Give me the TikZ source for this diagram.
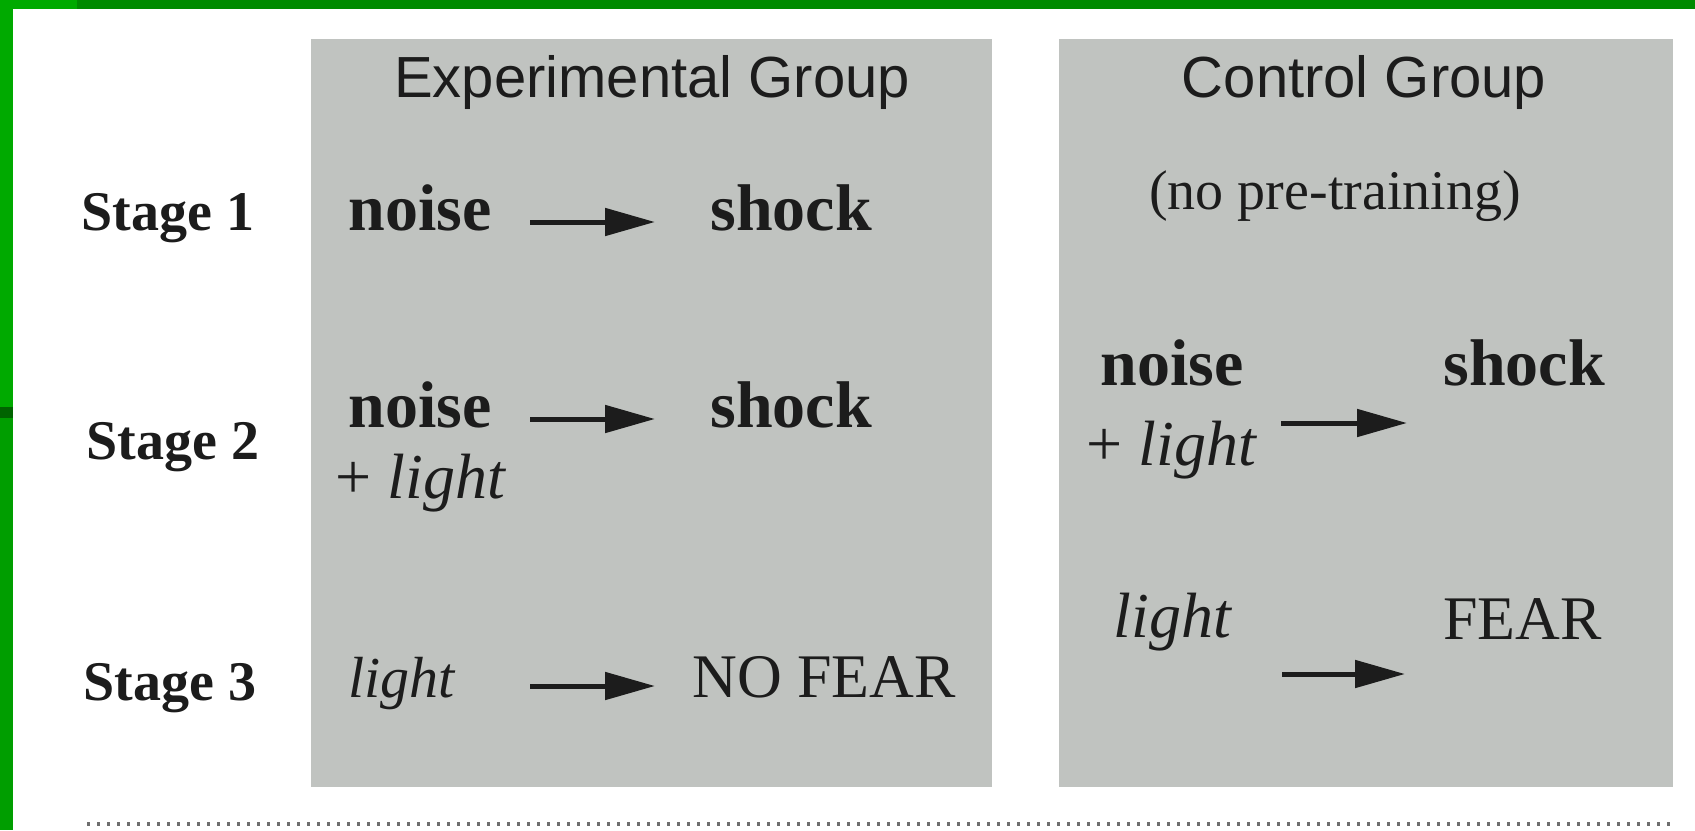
\documentclass[tikz,border=0pt]{standalone}
\usepackage{fontspec}
\setmainfont{Liberation Serif}
\newfontfamily\grpfont{Liberation Sans}
\usetikzlibrary{arrows.meta}
\definecolor{ink}{RGB}{28,28,28}
\definecolor{panelgray}{RGB}{192,195,192}
\definecolor{brightgreen}{RGB}{0,170,0}
\definecolor{darkgreen}{RGB}{0,138,0}
\definecolor{bandgreen}{RGB}{0,100,0}
\definecolor{lowgreen}{RGB}{0,158,0}
\definecolor{dotgray}{RGB}{110,110,110}
\begin{document}
\begin{tikzpicture}[x=0.5pt,y=-0.5pt,
  txt/.style={inner sep=0pt, text=ink},
  stagelbl/.style={txt, font=\fontsize{28}{30}\selectfont\bfseries, anchor=base west},
  boldlbl/.style={txt, font=\fontsize{33}{36}\selectfont\bfseries, anchor=base west},
  itallbl/.style={txt, font=\fontsize{32}{36}\selectfont\itshape, anchor=base west},
  reglbl/.style={txt, font=\fontsize{31}{36}\selectfont, anchor=base west},
  grplbl/.style={txt, font=\fontsize{29}{32}\selectfont\grpfont, anchor=base},
  notelbl/.style={txt, font=\fontsize{28}{30}\selectfont, anchor=base},
  panel/.style={fill=panelgray, draw=none},
  conn/.style={-{Triangle[length=25pt,width=13.5pt]}, line width=2.5pt, draw=ink}]
\useasboundingbox (0,0) rectangle (1695,830);
\fill[white] (0,0) rectangle (1695,830);
% green frame
\fill[brightgreen] (0,0) rectangle (77,9);
\fill[darkgreen] (77,0) rectangle (1695,9);
\fill[brightgreen] (0,0) rectangle (13,407);
\fill[bandgreen] (0,407) rectangle (13,418);
\fill[lowgreen] (0,418) rectangle (13,830);
% panels
\path[panel] (311,39) rectangle (992,787);
\path[panel] (1059,39) rectangle (1673,787);
% bottom dotted rule
\draw[dotgray, line width=2pt, dash pattern=on 1.5pt off 3.5pt] (87,824) -- (1673,824);
% titles
\node[grplbl] (expt) at (652,97) {Experimental Group};
\node[grplbl] (ctrlt) at (1364,97) {Control Group};
\node[notelbl] (nopre) at (1335,209) {(no pre-training)};
% stage labels
\node[stagelbl] (st1) at (81,230) {Stage 1};
\node[stagelbl] (st2) at (86,459) {Stage 2};
\node[stagelbl] (st3) at (83,700) {Stage 3};
% experimental group
\node[boldlbl] (en1) at (348,230) {noise};
\node[boldlbl] (es1) at (710,230) {shock};
\coordinate (ea1s) at (530,222);
\coordinate (ea1e) at (655,222);
\draw[conn] (ea1s) -- (ea1e);
\node[boldlbl] (en2) at (348,427) {noise};
\node[itallbl] (el2) at (335,498) {\upshape+ \itshape light};
\node[boldlbl] (es2) at (710,427) {shock};
\coordinate (ea2s) at (530,419);
\coordinate (ea2e) at (655,419);
\draw[conn] (ea2s) -- (ea2e);
\node[itallbl, font=\fontsize{29}{34}\selectfont\itshape] (el3) at (348,697) {light};
\node[reglbl] (enf) at (692,697) {NO FEAR};
\coordinate (ea3s) at (530,686);
\coordinate (ea3e) at (655,686);
\draw[conn] (ea3s) -- (ea3e);
% control group
\node[boldlbl] (cn2) at (1100,385) {noise};
\node[itallbl] (cl2) at (1086,465) {\upshape+ \itshape light};
\node[boldlbl] (cs2) at (1443,385) {shock};
\coordinate (ca2s) at (1281,423);
\coordinate (ca2e) at (1407,423);
\draw[conn] (ca2s) -- (ca2e);
\node[itallbl] (cl3) at (1113,637) {light};
\node[reglbl] (cf3) at (1443,639) {FEAR};
\coordinate (ca3s) at (1282,674);
\coordinate (ca3e) at (1405,674);
\draw[conn] (ca3s) -- (ca3e);
\end{tikzpicture}
\end{document}
